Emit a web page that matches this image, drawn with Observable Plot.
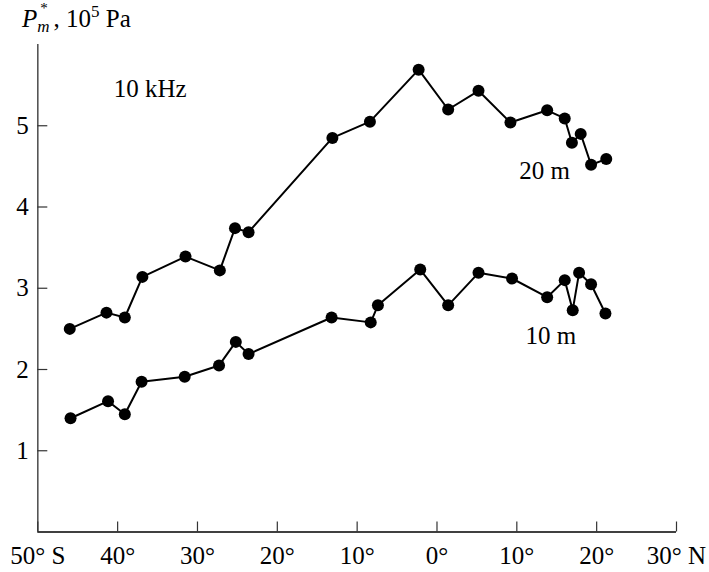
<!DOCTYPE html>
<html><head><meta charset="utf-8">
<script src="https://cdn.jsdelivr.net/npm/d3@7"></script>
<script src="https://cdn.jsdelivr.net/npm/@observablehq/plot@0.6"></script>
<style>
body{margin:0;background:#fff;}
#wrap{position:relative;width:709px;height:572px;font-family:"Liberation Serif","Times New Roman",serif;color:#000;}
#title{position:absolute;left:0;top:0;}
#chart{position:absolute;left:0;top:36px;}
</style></head><body>
<div id="wrap">
<svg id="title" width="220" height="36"><text x="22" y="27" font-family="'Liberation Serif','Times New Roman',serif" font-size="25" fill="#000"><tspan font-style="italic">P</tspan><tspan font-size="15" dx="3" dy="-14.5">*</tspan><tspan font-style="italic" font-size="17" dx="-10.5" dy="19.5">m</tspan><tspan dx="4" dy="-5">, 10</tspan><tspan font-size="17" dy="-10">5</tspan><tspan dy="10"> Pa</tspan></text></svg>
<div id="chart"></div>
</div>
<script>
// Latitude (negative = south) and P*_m (10^5 Pa) at 20 m depth
const lat20 = [-46.0, -41.4, -39.1, -36.9, -31.5, -27.2, -25.3, -23.6, -13.1, -8.4, -2.3, 1.4, 5.2, 9.2, 13.8, 16.0, 16.9, 18.0, 19.3, 21.2];
const p20   = [2.50, 2.70, 2.64, 3.14, 3.39, 3.22, 3.74, 3.69, 4.85, 5.05, 5.69, 5.20, 5.43, 5.04, 5.19, 5.09, 4.79, 4.90, 4.52, 4.59];
// at 10 m depth
const lat10 = [-45.9, -41.2, -39.1, -37.0, -31.6, -27.3, -25.2, -23.6, -13.2, -8.3, -7.4, -2.1, 1.4, 5.2, 9.4, 13.8, 16.0, 17.0, 17.8, 19.3, 21.1];
const p10   = [1.40, 1.61, 1.45, 1.85, 1.91, 2.05, 2.34, 2.19, 2.64, 2.58, 2.79, 3.23, 2.79, 3.19, 3.12, 2.89, 3.10, 2.73, 3.19, 3.05, 2.69];

const xTicks = [-50, -40, -30, -20, -10, 0, 10, 20, 30];
const yTicks = [1, 2, 3, 4, 5];
const xDomain = [-50, 30];
const yDomain = [0, 6];

const seriesNames = ["20 m", "10 m"];
const seriesLabelLat = [10.3, 11.1];
const seriesLabelP = [4.35, 2.32];
const freqText = ["10 kHz"];
const freqLat = [-40.5];
const freqP = [5.35];

const fmt = d => d === -50 ? "50° S" : d === 30 ? "30° N" : `${Math.abs(d)}°`;

const d20 = lat20.map((x, i) => ({lat: x, p: p20[i]}));
const d10 = lat10.map((x, i) => ({lat: x, p: p10[i]}));
const labels = seriesNames.map((t, i) => ({t, lat: seriesLabelLat[i], p: seriesLabelP[i]}))
  .concat(freqText.map((t, i) => ({t, lat: freqLat[i], p: freqP[i]})));

const FS = 25;
const chart = Plot.plot({
  width: 709, height: 536,
  marginTop: 8, marginLeft: 37.3, marginRight: 33, marginBottom: 40.5,
  x: {domain: xDomain, label: null},
  y: {domain: yDomain, label: null},
  style: {fontFamily: "'Liberation Serif', 'Times New Roman', serif", fontSize: FS + "px", color: "#000", background: "#fff"},
  marks: [
    Plot.ruleX([xDomain[0]], {stroke: "#555", strokeWidth: 1.6}),
    Plot.ruleY([yDomain[0]], {stroke: "#000", strokeWidth: 1.4}),
    Plot.ruleX(xTicks, {x: d => d, y1: yDomain[0], y2: yDomain[0], insetTop: -10, stroke: "#333", strokeWidth: 1.2}),
    Plot.ruleY(yTicks, {y: d => d, x1: xDomain[0], x2: xDomain[0], insetRight: -10, stroke: "#333", strokeWidth: 1.2}),
    Plot.axisX({ticks: xTicks, tickFormat: fmt, tickSize: 0, tickPadding: 14, fontSize: FS}),
    Plot.axisY({ticks: yTicks, tickFormat: "d", tickSize: 0, tickPadding: 9, fontSize: FS}),
    Plot.line(d20, {x: "lat", y: "p", stroke: "#000", strokeWidth: 2}),
    Plot.dot(d20, {x: "lat", y: "p", r: 6, fill: "#000"}),
    Plot.line(d10, {x: "lat", y: "p", stroke: "#000", strokeWidth: 2}),
    Plot.dot(d10, {x: "lat", y: "p", r: 6, fill: "#000"}),
    Plot.text(labels, {x: "lat", y: "p", text: "t", textAnchor: "start", lineAnchor: "bottom", fontSize: FS, fill: "#000"})
  ]
});
document.getElementById("chart").appendChild(chart);
</script>
</body></html>
